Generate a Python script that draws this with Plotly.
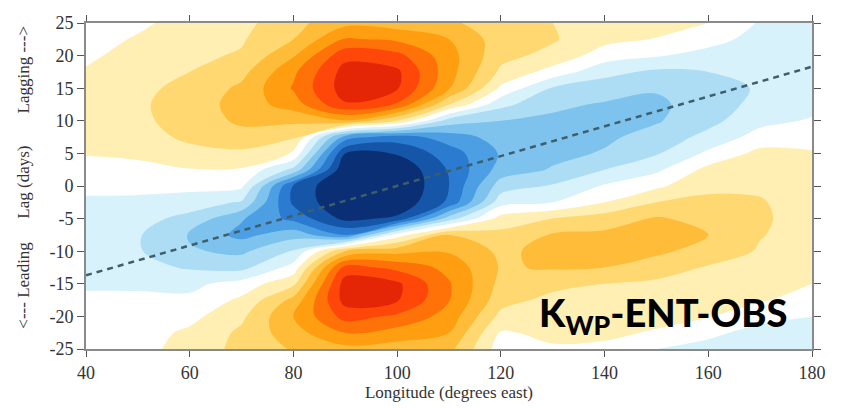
import numpy as np
import plotly.graph_objects as go

# ---------------- data ----------------
longitudes = [40, 50, 60, 70, 80, 90, 100, 110, 120, 130, 140, 150, 160, 170, 180]
lags = [25, 22.5, 20, 17.5, 15, 12.5, 10, 7.5, 5, 2.5, 0,
        -2.5, -5, -7.5, -10, -12.5, -15, -17.5, -20, -22.5, -25]

# one lag profile per longitude (values from lag 25 down to lag -25), in contour-level units
lag_profile_040 = [0.0, 0.1, 0.3, 0.6, 0.9, 1.0, 1.0, 0.9, 0.55, 0.2, -0.2, -0.7, -1.0, -1.2, -1.2, -1.0, -0.65, -0.3, -0.1, 0.0, 0.0]
lag_profile_050 = [0.3, 0.6, 0.9, 1.1, 1.25, 1.35, 1.3, 1.1, 0.7, 0.2, -0.2, -0.75, -1.15, -1.4, -1.4, -1.2, -0.7, -0.25, -0.05, 0.05, 0.15]
lag_profile_060 = [0.9, 1.1, 1.3, 1.5, 1.8, 1.95, 1.9, 1.7, 1.2, 0.45, -0.2, -1.0, -1.8, -2.6, -2.4, -1.6, -0.75, -0.3, 0.2, 0.7, 0.9]
lag_profile_070 = [1.2, 1.4, 1.6, 2.2, 2.7, 2.9, 2.7, 2.1, 1.3, 0.4, -0.3, -1.6, -3.4, -3.8, -2.7, -1.8, -0.1, 0.7, 1.3, 1.7, 1.8]
lag_profile_080 = [2.2, 2.5, 3.4, 4.3, 4.6, 4.0, 2.7, 1.7, 0.4, -1.8, -5.6, -5.7, -4.8, -2.9, -1.4, -0.1, 1.3, 2.8, 3.5, 3.1, 2.6]
lag_profile_090 = [3.2, 4.6, 6.2, 6.9, 7.0, 6.4, 3.4, -4.0, -6.5, -7.4, -7.6, -7.4, -6.8, -4.5, 2.5, 5.9, 7.0, 6.9, 5.9, 4.5, 3.2]
lag_profile_100 = [3.0, 4.3, 5.8, 6.7, 6.6, 5.4, 1.5, -5.0, -6.4, -7.4, -7.6, -7.3, -6.3, 0.0, 3.2, 5.2, 6.7, 6.6, 5.3, 4.1, 3.0]
lag_profile_110 = [2.7, 3.5, 3.9, 3.9, 3.6, 1.5, -2.0, -4.0, -5.0, -5.4, -5.5, -5.3, -2.0, 2.5, 3.4, 4.2, 4.6, 4.55, 4.1, 3.5, 2.8]
lag_profile_120 = [1.9, 2.0, 1.8, 1.3, 0.3, -1.2, -2.5, -3.1, -3.4, -3.1, -2.0, -0.9, 0.9, 1.8, 2.3, 2.4, 2.2, 1.9, 1.2, 0.4, 0.0]
lag_profile_130 = [1.5, 1.6, 1.2, 0.1, -1.6, -2.3, -2.7, -2.9, -2.8, -2.4, -1.4, -0.5, 1.5, 2.6, 2.8, 2.6, 1.8, 1.2, 0.9, 0.7, 0.4]
lag_profile_140 = [1.1, 0.8, 0.0, -1.2, -2.0, -2.6, -2.8, -2.7, -2.4, -1.5, -0.4, 0.5, 2.0, 2.7, 2.8, 2.5, 1.5, 1.1, 0.9, 0.7, 0.3]
lag_profile_150 = [0.9, 0.45, -0.4, -1.7, -2.4, -2.7, -2.6, -2.1, -1.6, -0.7, 0.3, 1.5, 2.6, 2.9, 2.7, 2.0, 1.3, 1.0, 0.8, 0.4, -0.5]
lag_profile_160 = [0.5, -0.1, -0.9, -1.5, -1.9, -2.0, -1.8, -1.2, -0.3, 0.8, 1.3, 1.7, 2.2, 2.5, 2.1, 1.4, 1.0, 0.8, 0.55, -0.3, -0.8]
lag_profile_170 = [-0.6, -0.9, -1.2, -1.4, -1.4, -1.2, -0.8, -0.1, 0.8, 1.2, 1.4, 1.55, 1.6, 1.55, 1.4, 1.2, 0.9, 0.6, -0.2, -0.8, -1.0]
lag_profile_180 = [-1.0, -1.1, -1.2, -1.2, -1.1, -0.8, -0.4, 0.1, 0.6, 0.9, 1.1, 1.2, 1.2, 1.1, 1.0, 0.8, 0.5, 0.1, -0.5, -0.9, -1.0]

# dashed reference line (propagation line)
dash_lon = [40, 180]
dash_lag = [-13.7, 18.3]

x_tick_values = [40, 60, 80, 100, 120, 140, 160, 180]
y_tick_values = [-25, -20, -15, -10, -5, 0, 5, 10, 15, 20, 25]
y_tick_labels = ["-25", "-20", "-15", "-10", "-5", "0", "5", "10", "15", "20", "25"]

# ---------------- build figure ----------------
profiles = [lag_profile_040, lag_profile_050, lag_profile_060, lag_profile_070, lag_profile_080,
            lag_profile_090, lag_profile_100, lag_profile_110, lag_profile_120, lag_profile_130,
            lag_profile_140, lag_profile_150, lag_profile_160, lag_profile_170, lag_profile_180]
z = np.column_stack(profiles)[::-1]
y = lags[::-1]

band_colors = ["#0A2F74", "#1556A8", "#2B7BD0", "#4C9FE3", "#7DC3EE", "#ACDDF5", "#D8F2FB",
               "#FFFFFF",
               "#FFEFB3", "#FFD872", "#FFBC38", "#FF9E10", "#FF7208", "#FF470A", "#E42606"]
n = len(band_colors)
colorscale = []
for i, c in enumerate(band_colors):
    colorscale.append([i / n, c])
    colorscale.append([(i + 1) / n, c])

fig = go.Figure()
fig.add_trace(go.Contour(
    x=longitudes, y=y, z=z,
    zmin=-7.5, zmax=7.5, colorscale=colorscale, showscale=False,
    contours=dict(start=-6.5, end=6.5, size=1, coloring="fill", showlines=False),
    line=dict(width=0, smoothing=1.0),
    hoverinfo="skip",
))
fig.add_trace(go.Scatter(
    x=dash_lon, y=dash_lag, mode="lines",
    line=dict(color="#3E5E6B", width=2.5, dash="6px,5px"),
    hoverinfo="skip", showlegend=False,
))

serif = "Liberation Serif"
axis_font = dict(family=serif, size=18, color="#333333")

fig.update_xaxes(
    range=[40, 180], tickvals=x_tick_values, ticks="outside", ticklen=6,
    tickcolor="#555555", showline=True, linecolor="#8a8a8a", linewidth=2,
    mirror="ticks", showgrid=False, zeroline=False, tickfont=axis_font,
    title=dict(text="Longitude (degrees east)", font=dict(family=serif, size=17, color="#333333"), standoff=4),
)
fig.update_yaxes(
    range=[-25, 25], tickvals=y_tick_values, ticktext=y_tick_labels, ticks="outside", ticklen=7,
    tickcolor="#555555", showline=True, linecolor="#8a8a8a", linewidth=2,
    mirror="ticks", showgrid=False, zeroline=False, tickfont=axis_font,
)

ylab_font = dict(family=serif, size=17, color="#333333")
for txt, yc in [("Lagging --->", 0.856), ("Lag (days)", 0.512), ("<--- Leading", 0.196)]:
    fig.add_annotation(text=txt, xref="paper", yref="paper", x=-0.086, y=yc,
                       textangle=-90, showarrow=False, font=ylab_font,
                       xanchor="center", yanchor="middle")

fig.add_annotation(text="K<sub>WP</sub>-ENT-OBS", xref="paper", yref="paper",
                   x=0.968, y=0.105, xanchor="right", yanchor="middle", showarrow=False,
                   font=dict(family="Lato", size=38, color="#000000", weight=900))

# the page is shown with an 8px body margin, so the figure is sized to fit the window
fig.update_layout(
    width=833, height=400,
    margin=dict(l=78, r=29, t=5, b=59),
    paper_bgcolor="white", plot_bgcolor="white",
    showlegend=False,
)

fig.write_html("out.html")
